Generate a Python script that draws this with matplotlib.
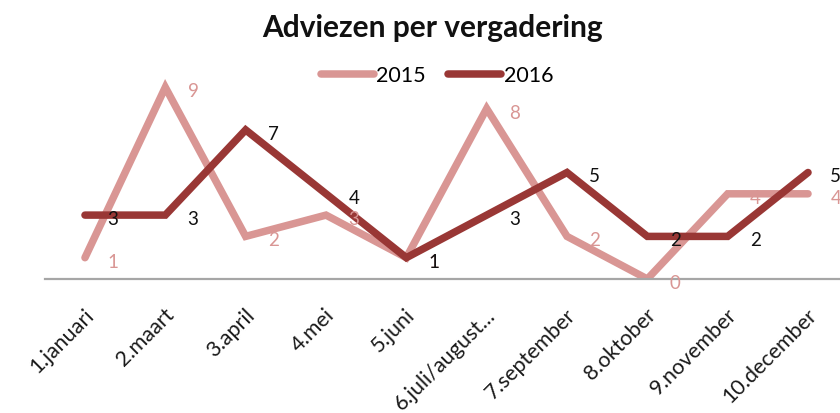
import matplotlib.pyplot as plt
import matplotlib.transforms as mtransforms

# categories and values
maanden = ["1.januari", "2.maart", "3.april", "4.mei", "5.juni",
           "6.juli/august...", "7.september", "8.oktober", "9.november", "10.december"]
adviezen_2015 = [1, 9, 2, 3, 1, 8, 2, 0, 4, 4]
adviezen_2016 = [3, 3, 7, 4, 1, 3, 5, 2, 2, 5]

kleur_2015 = "#D99694"
kleur_2016 = "#993735"

plt.rcParams["font.family"] = ["Lato", "DejaVu Sans"]

fig = plt.figure(figsize=(8.4, 4.14), dpi=100)
ax = fig.add_axes([44.8 / 840, 134 / 414, 803.4 / 840, 213 / 414])

xs = list(range(1, len(maanden) + 1))

l1, = ax.plot(xs, adviezen_2015, color=kleur_2015, linewidth=5.4,
              solid_capstyle="round", solid_joinstyle="miter", label="2015")
l2, = ax.plot(xs, adviezen_2016, color=kleur_2016, linewidth=5.4,
              solid_capstyle="round", solid_joinstyle="miter", label="2016")

# data labels to the right of each point
for x, v in zip(xs, adviezen_2015):
    ax.annotate(str(v), (x, v), xytext=(20, -2.5), textcoords="offset points",
                ha="center", va="center", fontsize=13.5, color=kleur_2015,
                annotation_clip=False)
for x, v in zip(xs, adviezen_2016):
    ax.annotate(str(v), (x, v), xytext=(20, -2.5), textcoords="offset points",
                ha="center", va="center", fontsize=13.5, color="#111111",
                annotation_clip=False)

ax.set_xlim(0.5, len(maanden) + 0.5)
ax.set_ylim(0, 10)
ax.set_xticks(xs)
ax.set_xticklabels(maanden, rotation=45, ha="right", rotation_mode="anchor",
                   fontsize=15.5, color="#1a1a1a")
ax.set_yticks([])
ax.tick_params(axis="x", length=0, pad=13)

# shift the rotated labels a little down
schuif = mtransforms.ScaledTranslation(-1 / 72, -5 / 72, fig.dpi_scale_trans)
for lbl in ax.get_xticklabels():
    lbl.set_transform(lbl.get_transform() + schuif)

for s in ["top", "right", "left"]:
    ax.spines[s].set_visible(False)
ax.spines["bottom"].set_color("#A6A6A6")
ax.spines["bottom"].set_linewidth(1.6)
ax.patch.set_alpha(0)

fig.text(0.515, 0.932, "Adviezen per vergadering", ha="center", va="center",
         fontsize=21.5, fontweight="bold", color="#111111")
fig.legend(handles=[l1, l2], loc="center", bbox_to_anchor=(0.52, 0.816), ncol=2,
           frameon=False, fontsize=15.5, handlelength=2.5, handletextpad=0.1,
           columnspacing=1.0)

fig.savefig("out.png", dpi=100)
